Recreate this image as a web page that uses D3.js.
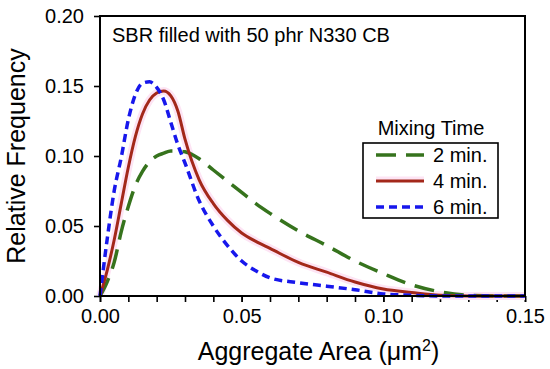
<!DOCTYPE html>
<html>
<head>
<meta charset="utf-8">
<script src="https://cdn.jsdelivr.net/npm/d3@7"></script>
<style>
  body { margin: 0; background: #fff; }
  text { font-family: "Liberation Sans", Arial, sans-serif; fill: #000; }
</style>
</head>
<body>
<div class="chart"></div>
<script>
// aggregate area (um^2)
var areas = [0, 0.0025, 0.005, 0.0075, 0.01, 0.0125, 0.015, 0.0175, 0.02, 0.0225, 0.025, 0.0275, 0.03,
             0.035, 0.04, 0.045, 0.05, 0.055, 0.06, 0.07, 0.08, 0.09, 0.10, 0.11, 0.12, 0.13, 0.14, 0.15];

// relative frequency per mixing time
var min2 = [0, 0.010, 0.024, 0.046, 0.064, 0.079, 0.089, 0.096, 0.100, 0.102, 0.1035, 0.1035, 0.103,
            0.098, 0.090, 0.082, 0.074, 0.066, 0.059, 0.0465, 0.036, 0.025, 0.016, 0.008, 0.003, 0.0005, 0, 0];
var min4 = [0, 0.018, 0.040, 0.066, 0.092, 0.114, 0.130, 0.140, 0.145, 0.1465, 0.143, 0.132, 0.112,
            0.083, 0.066, 0.054, 0.045, 0.039, 0.034, 0.024, 0.017, 0.010, 0.005, 0.0025, 0.0005, 0, 0, 0];
var min6 = [0, 0.040, 0.075, 0.099, 0.126, 0.144, 0.152, 0.153, 0.149, 0.140, 0.124, 0.108, 0.095,
            0.068, 0.050, 0.036, 0.025, 0.018, 0.013, 0.0095, 0.007, 0.0045, 0.0015, 0.0005, 0, 0, 0, 0];

var seriesNames = ["2 min.", "4 min.", "6 min."];
var xTicks = [0, 0.05, 0.10, 0.15];
var yTicks = [0, 0.05, 0.10, 0.15, 0.20];

var svgWidth = 550, svgHeight = 369;
var margin = { top: 16, right: 25, bottom: 73, left: 100 };
var width = svgWidth - margin.left - margin.right;
var height = svgHeight - margin.top - margin.bottom;

var svg = d3.select(".chart")
            .append("svg")
            .attr("width", svgWidth)
            .attr("height", svgHeight);

var chartGroup = svg.append("g")
                    .attr("transform", `translate(${margin.left}, ${margin.top})`);

var xScale = d3.scaleLinear().domain([0, 0.15]).range([0, width]);
var yScale = d3.scaleLinear().domain([0, 0.20]).range([height, 0]);

// minor x ticks
chartGroup.append("g")
          .attr("transform", `translate(0, ${height})`)
          .call(d3.axisBottom(xScale).tickValues(d3.range(0, 16).map(i => i / 100)).tickSize(6).tickFormat(""))
          .call(g => g.select(".domain").remove());

var xAxis = chartGroup.append("g")
          .attr("transform", `translate(0, ${height})`)
          .call(d3.axisBottom(xScale).tickValues(xTicks).tickFormat(d3.format(".2f")).tickSize(6).tickPadding(7));
xAxis.select(".domain").remove();

var yAxis = chartGroup.append("g")
          .call(d3.axisLeft(yScale).tickValues(yTicks).tickFormat(d3.format(".2f")).tickSize(6).tickPadding(10));
yAxis.select(".domain").remove();

svg.selectAll(".tick line").attr("stroke", "#000").attr("stroke-width", 1.6);
svg.selectAll(".tick text").style("font-size", "20px").style("font-family", "'Liberation Sans', Arial, sans-serif");

// series lines
var series = [
  { name: seriesNames[0], values: min2, color: "#36731d", dash: "20,10", width: 3.5 },
  { name: seriesNames[1], values: min4, color: "#a3281a", dash: null, width: 3 },
  { name: seriesNames[2], values: min6, color: "#1717ec", dash: "8,5", width: 3.5 }
];

var line = d3.line()
             .x((d, i) => xScale(areas[i]))
             .y(d => yScale(d))
             .curve(d3.curveMonotoneX);

// faint pink glow around the solid line, as in the source image
chartGroup.append("path")
          .attr("d", line(min4))
          .attr("fill", "none")
          .attr("stroke", "#fde4f4")
          .attr("stroke-width", 8);

series.forEach(function (s) {
  chartGroup.append("path")
            .attr("d", line(s.values))
            .attr("fill", "none")
            .attr("stroke", s.color)
            .attr("stroke-width", s.width)
            .attr("stroke-dasharray", s.dash);
});

// frame
chartGroup.append("rect")
          .attr("width", width)
          .attr("height", height)
          .attr("fill", "none")
          .attr("stroke", "#000")
          .attr("stroke-width", 2);

// annotation
chartGroup.append("text")
          .attr("x", 12)
          .attr("y", 26)
          .style("font-size", "20px")
          .text("SBR filled with 50 phr N330 CB");

// legend
var legend = chartGroup.append("g").attr("transform", "translate(263, 127)");
legend.append("text")
      .attr("x", 68)
      .attr("y", -8)
      .attr("text-anchor", "middle")
      .style("font-size", "20px")
      .text("Mixing Time");
legend.append("rect")
      .attr("width", 135)
      .attr("height", 75)
      .attr("fill", "#fff")
      .attr("stroke", "#000")
      .attr("stroke-width", 1.6);

series.forEach(function (s, i) {
  var y = 12 + i * 26;
  if (i === 1) {
    legend.append("line").attr("x1", 13).attr("x2", 61).attr("y1", y - 2).attr("y2", y - 2)
          .attr("stroke", "#fde4f4").attr("stroke-width", 5);
  }
  legend.append("line")
        .attr("x1", 13).attr("x2", 61)
        .attr("y1", y).attr("y2", y)
        .attr("stroke", s.color)
        .attr("stroke-width", s.width)
        .attr("stroke-dasharray", s.dash);
  legend.append("text")
        .attr("x", 70)
        .attr("y", y)
        .attr("dy", "0.35em")
        .style("font-size", "20px")
        .text(s.name);
});

// axis titles
var xTitle = chartGroup.append("text")
          .attr("x", width / 2 + 6)
          .attr("y", height + 64)
          .attr("text-anchor", "middle")
          .style("font-size", "25px");
xTitle.append("tspan").text("Aggregate Area (\u03bcm");
xTitle.append("tspan").attr("dy", -9).style("font-size", "16px").text("2");
xTitle.append("tspan").attr("dy", 9).text(")");

chartGroup.append("text")
          .attr("transform", "rotate(-90)")
          .attr("x", -height / 2)
          .attr("y", -75)
          .attr("text-anchor", "middle")
          .style("font-size", "25px")
          .text("Relative Frequency");
</script>
</body>
</html>
